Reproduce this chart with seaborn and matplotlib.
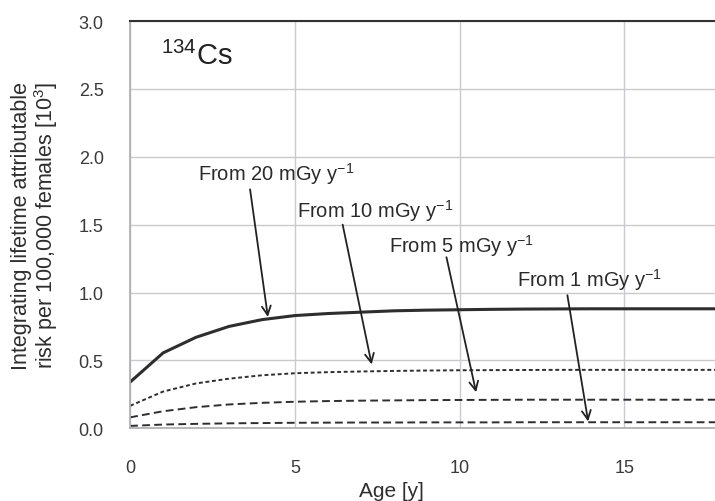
import matplotlib
matplotlib.use("Agg")
import matplotlib.pyplot as plt
import seaborn as sns
import pandas as pd

ages = list(range(0, 19))
dose20 = [0.34, 0.555, 0.67, 0.75, 0.80, 0.83, 0.845, 0.855, 0.865, 0.87, 0.873,
          0.876, 0.878, 0.879, 0.88, 0.88, 0.88, 0.88, 0.88]
dose10 = [0.165, 0.27, 0.33, 0.365, 0.39, 0.405, 0.413, 0.418, 0.422, 0.425, 0.427,
          0.428, 0.429, 0.43, 0.43, 0.43, 0.43, 0.43, 0.43]
dose5 = [0.08, 0.125, 0.155, 0.175, 0.187, 0.195, 0.2, 0.203, 0.205, 0.207, 0.208,
         0.209, 0.21, 0.21, 0.21, 0.21, 0.21, 0.21, 0.21]
dose1 = [0.017, 0.027, 0.032, 0.036, 0.038, 0.04, 0.041, 0.042, 0.042, 0.043, 0.043,
         0.043, 0.044, 0.044, 0.044, 0.044, 0.044, 0.044, 0.044]
series_names = ["20", "10", "5", "1"]
labels = ["From 20 mGy y$^{-1}$", "From 10 mGy y$^{-1}$",
          "From 5 mGy y$^{-1}$", "From 1 mGy y$^{-1}$"]
xticks = [0, 5, 10, 15]
yticks = [0.0, 0.5, 1.0, 1.5, 2.0, 2.5, 3.0]

sns.set_theme(style="white")
plt.rcParams["font.family"] = ["Liberation Sans", "DejaVu Sans"]
plt.rcParams["mathtext.fontset"] = "custom"
plt.rcParams["mathtext.rm"] = "Liberation Sans"
plt.rcParams["mathtext.it"] = "Liberation Sans"
plt.rcParams["mathtext.sf"] = "Liberation Sans"

rows = []
for name, vals in zip(series_names, [dose20, dose10, dose5, dose1]):
    for a, v in zip(ages, vals):
        rows.append({"age": a, "risk": v, "dose": name})
df = pd.DataFrame(rows)

fig = plt.figure(figsize=(7.15, 5.02), dpi=100)
ax = fig.add_axes([0.182, 0.145, 0.818, 0.811])

dark = "#2e2e2e"
styles = {"20": "", "10": (2, 1.4), "5": (4, 2.2), "1": (4, 2.2)}
widths = {"20": 2.2, "10": 1.4, "5": 1.4, "1": 1.4}
for name in series_names:
    sub = df[df["dose"] == name]
    sns.lineplot(data=sub, x="age", y="risk", ax=ax, color=dark,
                 linewidth=widths[name], legend=False)
    if styles[name]:
        ax.lines[-1].set_dashes(styles[name])

ax.set_xlim(0, 17.75)
ax.set_ylim(0, 3.0)
ax.set_xticks(xticks)
ax.set_yticks(yticks)
ax.set_yticklabels([f"{v:.1f}" for v in yticks])
ax.grid(True, color="#c9c9ce", linewidth=1.0)
ax.set_axisbelow(True)
ax.tick_params(axis="both", length=0, labelsize=13, labelcolor="#3a3a3a")
ax.tick_params(axis="y", pad=19)
ax.tick_params(axis="x", pad=22)
for s in ["left", "bottom"]:
    ax.spines[s].set_color("#b0b0b5")
    ax.spines[s].set_linewidth(1.3)
ax.spines["right"].set_visible(False)
ax.spines["top"].set_color("#333333")
ax.spines["top"].set_linewidth(1.5)

ax.set_xlabel("Age [y]", fontsize=15, color="#2e2e2e")
ax.xaxis.set_label_coords(0.446, -0.13)
ax.set_ylabel("Integrating lifetime attributable\nrisk per 100,000 females [10$^3$]",
              fontsize=15.5, color="#2e2e2e", linespacing=1.0)
ax.yaxis.set_label_coords(-0.12, 0.5)

ax.text(0.95, 2.75, r"$^{134}$Cs", fontsize=21, color="#222222", va="center")

ann = [
    ((3.64, 1.76), (4.18, 0.82), (2.05, 1.88)),
    ((6.45, 1.50), (7.33, 0.47), (5.05, 1.61)),
    ((9.6, 1.26), (10.5, 0.265), (7.85, 1.35)),
    ((13.27, 0.98), (13.9, 0.05), (11.75, 1.10)),
]
for lab, (tail, head, tpos) in zip(labels, ann):
    ax.annotate("", xy=head, xytext=tail,
                arrowprops=dict(arrowstyle="->", color="#222222", lw=1.3,
                                mutation_scale=16, shrinkA=0, shrinkB=0))
    ax.text(tpos[0], tpos[1], lab, fontsize=14.5, color="#2a2a2a",
            ha="left", va="center")

fig.savefig("out.png", dpi=100)
